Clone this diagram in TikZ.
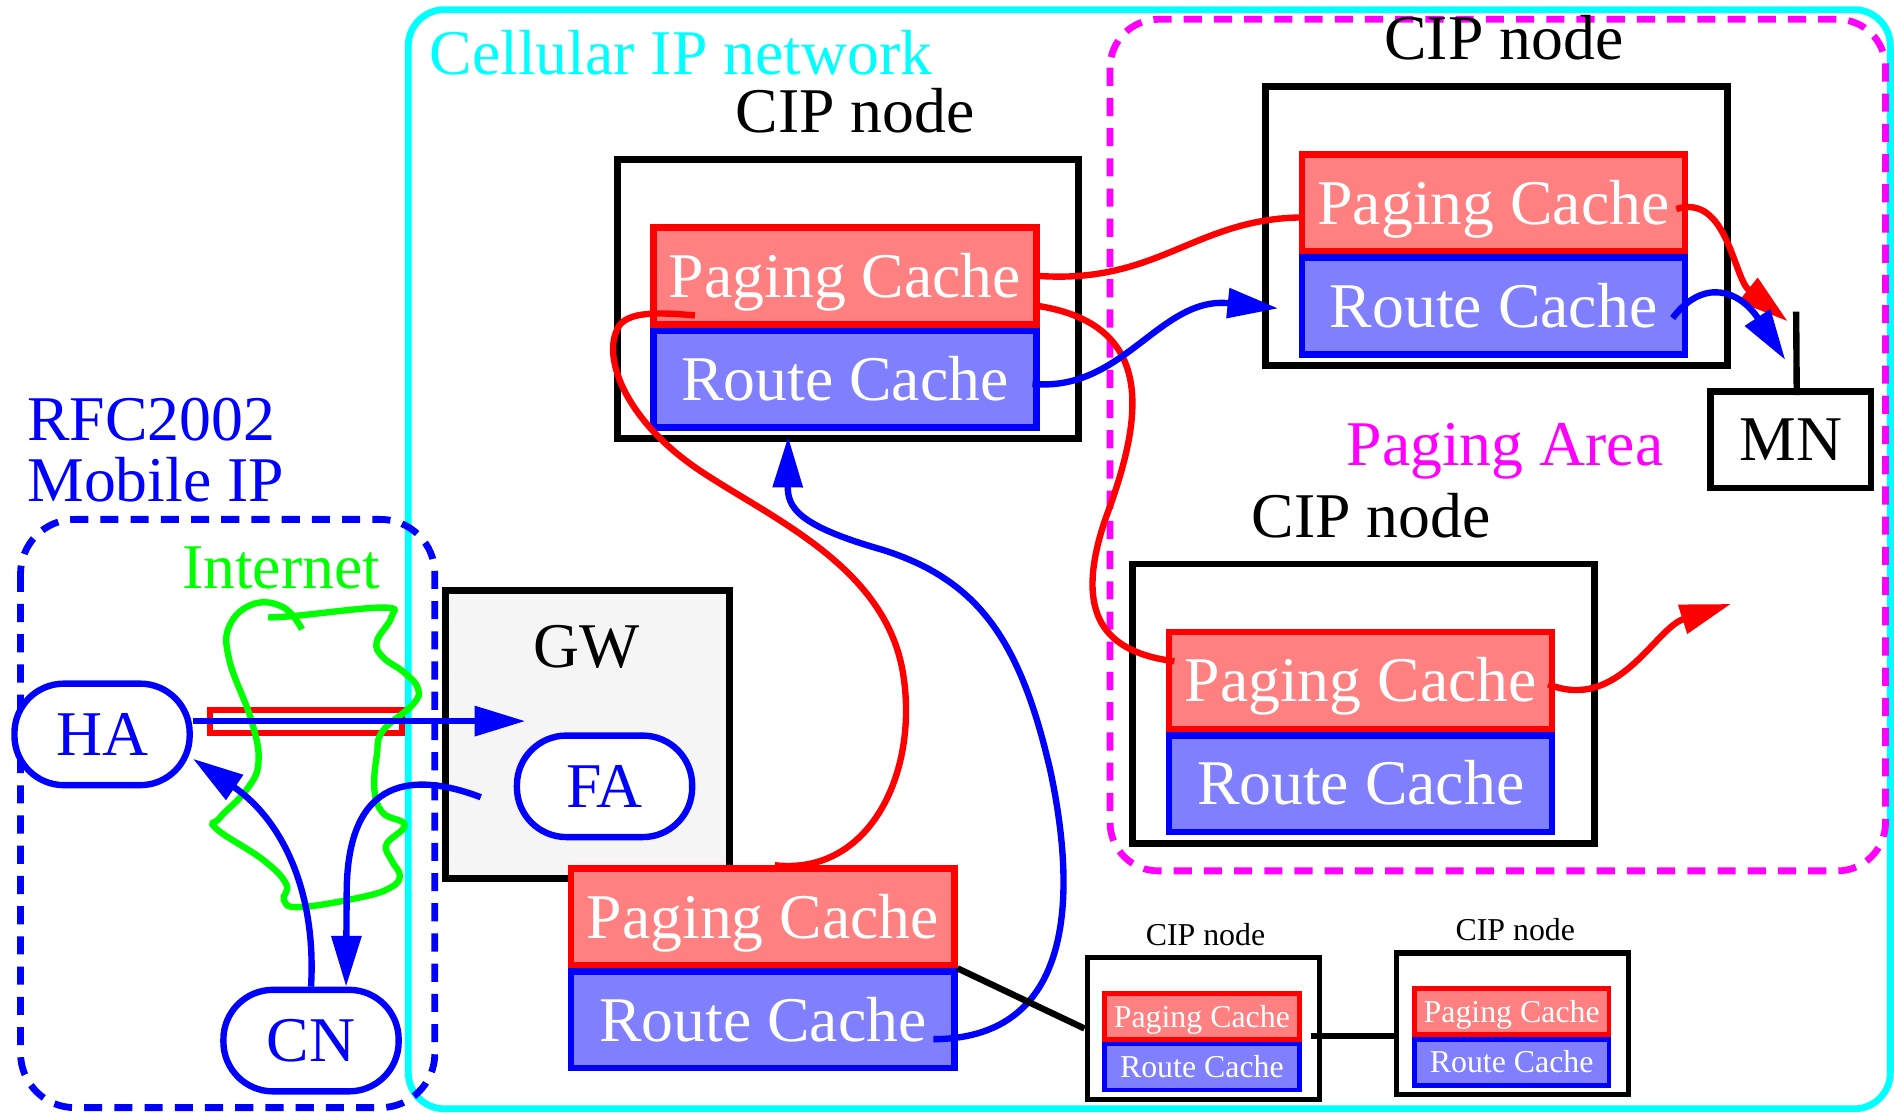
\documentclass[tikz,border=0pt]{standalone}
\usepackage{fontspec}
\setmainfont{Liberation Serif}
\usetikzlibrary{arrows.meta,positioning,calc}
\definecolor{netcyan}{RGB}{0,255,255}
\definecolor{areamagenta}{RGB}{255,0,255}
\definecolor{inetgreen}{RGB}{0,255,0}

\begin{document}
\begin{tikzpicture}[x=0.01cm,y=-0.01cm,
  font=\fontsize{15}{18}\selectfont,
  cipbox/.style={draw,line width=1.6pt,minimum width=3.82cm,minimum height=2.31cm},
  pagecache/.style={draw=red,fill=red!50,text=white,line width=1.5pt,minimum width=3.17cm,minimum height=0.8cm,inner sep=0pt,text height=10pt,text depth=0pt},
  routecache/.style={pagecache,draw=blue,fill=blue!50},
  smallbox/.style={draw,line width=1.2pt,minimum width=1.92cm,minimum height=1.17cm},
  smallpage/.style={pagecache,line width=1.1pt,minimum width=1.61cm,minimum height=0.38cm,font=\fontsize{7.5}{9}\selectfont,text height=5pt},
  smallroute/.style={smallpage,draw=blue,fill=blue!50},
  cipname/.style={anchor=base,inner sep=0pt},
  smallname/.style={cipname,font=\fontsize{7.5}{9}\selectfont},
  agent/.style={draw=blue,text=blue,fill=white,line width=1.5pt,rounded corners=0.41cm,minimum width=1.45cm,minimum height=0.84cm,inner sep=0pt},
  redwire/.style={draw=red,line width=1.5pt},
  bluewire/.style={draw=blue,line width=1.5pt},
  arrowhd/.style={-{Triangle[length=0.42cm,width=0.24cm]}}]
\useasboundingbox (0,0) rectangle (1568,922);

% areas
\draw[netcyan,line width=1.6pt,rounded corners=0.3cm] (338,8) rectangle (1565,918);
\draw[blue,line width=1.6pt,dash pattern=on 0.15cm off 0.1cm,rounded corners=0.45cm] (17,430) rectangle (360,917);
\draw[areamagenta,line width=1.6pt,dash pattern=on 0.15cm off 0.1cm,rounded corners=0.4cm] (919,16) rectangle (1561,721);

\node[cipname,text=netcyan,anchor=base west] (cipnet) at (355,62) {Cellular IP network};
\node[cipname,text=blue,anchor=base west] (rfc) at (22,365) {RFC2002};
\node[cipname,text=blue,anchor=base west] (mip) at (22,415) {Mobile IP};
\node[cipname,text=areamagenta] (parea) at (1246,385) {Paging Area};
\node[cipname,text=inetgreen,anchor=base west] (inet) at (150,487) {Internet};

% CIP nodes
\foreach \n/\x/\y in {a/702/247.5,b/1239/187,c/1129/582.5}{
  \node[cipbox] (cip\n) at (\x,\y) {};
  \node[pagecache] (pc\n) at ([shift={(-2.5,-19)}]cip\n.center) {Paging Cache};
  \node[routecache,below=0pt of pc\n] (rc\n) {Route Cache};
  \node[cipname] (lbl\n) at ([shift={(6,-137.5)}]cip\n.center) {CIP node};
}
\foreach \n/\x/\y in {d/996/851.5,e/1252.5/847.5}{
  \node[smallbox] (cip\n) at (\x,\y) {};
  \node[smallpage] (pc\n) at ([shift={(-1,-10)}]cip\n.center) {Paging Cache};
  \node[smallroute,below=0pt of pc\n] (rc\n) {Route Cache};
  \node[smallname] (lbl\n) at ([shift={(2,-69)}]cip\n.center) {CIP node};
}

% gateway
\node[draw,fill=gray!8,line width=1.6pt,minimum width=2.35cm,minimum height=2.38cm] (gw) at (486.5,608) {};
\node[cipname] (gwname) at (486,553) {GW};
\node[agent] (fa) at (500.5,651) {FA};
\node[pagecache] (pcg) at (631.5,759) {Paging Cache};
\node[routecache,below=0pt of pcg] (rcg) {Route Cache};

% mobile IP side
\node[agent] (ha) at (84.5,608) {HA};
\node[agent] (cn) at (257.5,861.5) {CN};
\node[draw,line width=1.6pt,minimum width=1.33cm,minimum height=0.8cm] (mn) at (1482.5,364) {MN};
\node[draw=red,line width=1.4pt,minimum width=1.59cm,minimum height=0.19cm,inner sep=0pt] (tunnel) at (253.5,597) {};

\draw[inetgreen,line width=1.5pt] plot[smooth,tension=0.7] coordinates {(222,511) (243,510) (317,503) (324,511) (312,531) (317,544) (335,557) (346,570) (342,583) (317,605) (312,625) (310,654) (317,673) (335,683) (320,699) (324,712) (331,725) (323,735) (298,743) (248,751) (235,745) (237,732) (218,712) (179,686) (182,677) (204,654) (214,631) (208,596) (190,547) (190,518) (210,500) (235,503) (250,521)};

\coordinate (faIn) at (435,597);
\coordinate (gwOut) at (398,660);
\coordinate (ant) at (1487,258);
\coordinate (pgOut) at (1433,500);

\draw[bluewire,arrowhd] (ha.east |- tunnel) -- (faIn);
\draw[bluewire,arrowhd] (cn.north) .. controls (262,740) and (235,680) .. (ha.-15);
\draw[bluewire,arrowhd] (gwOut) .. controls (345,640) and (287,640) .. (287,740) -- (cn.57);

% paging and routing
\draw[redwire] ($(pcg.north)+(10,0)$) .. controls (720,725) and (760,640) .. (748,560) .. controls (735,470) and (640,430) .. (580,390) .. controls (520,350) and (500,300) .. (510,275) .. controls (515,258) and (540,258) .. ($(pca.south west)+(37,-10)$);
\draw[redwire] (pca.east) .. controls (960,235) and (990,180) .. ($(pcb.west)+(5,12)$);
\draw[redwire] ($(pca.east)+(0,25)$) .. controls (960,270) and (945,350) .. (915,430) .. controls (888,510) and (915,540) .. ($(pcc.west)+(7,-16)$);
\draw[bluewire,arrowhd] ($(rca.east)+(-6,4)$) .. controls (930,325) and (960,245) .. ($(rcb.west)+(-17,2)$);
\draw[bluewire,arrowhd] ($(rcg.east)+(-20,16)$) .. controls (880,860) and (895,760) .. (870,640) .. controls (845,530) and (810,480) .. (730,455) .. controls (660,435) and (652,420) .. ($(rca.south)+(-47,5)$);

\draw[line width=1.5pt] (ant) -- ($(mn.north)+(5,6)$);
\draw[redwire,arrowhd] ($(pcb.east)+(-10,5)$) .. controls (1430,160) and (1435,230) .. ($(ant)+(-7,8)$);
\draw[bluewire,arrowhd] ($(rcb.east)+(-13,10)$) .. controls (1410,230) and (1440,240) .. ($(ant)+(-9,40)$);
\draw[redwire,arrowhd] ($(pcc.east)+(-6,3)$) .. controls (1340,590) and (1370,520) .. (pgOut);

% backbone
\draw[line width=1.5pt] (pcg.south east) -- (cipd.west);
\draw[line width=1.5pt] ($(cipd.east)+(-9,6)$) -- ($(cipe.west)+(0,10)$);
\end{tikzpicture}
\end{document}
